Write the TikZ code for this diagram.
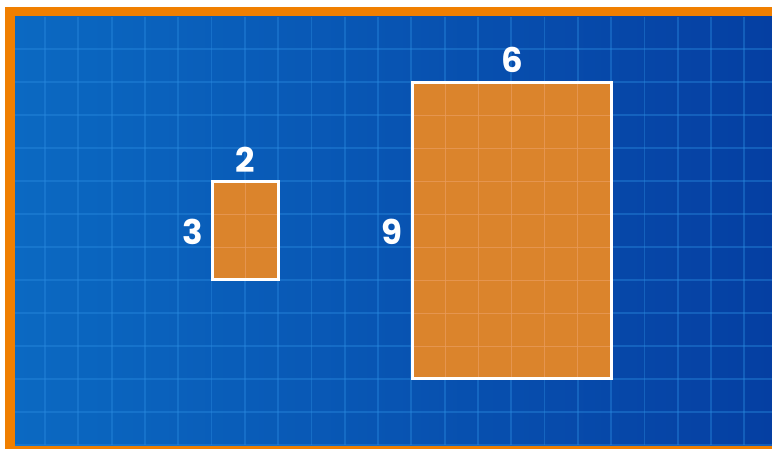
\documentclass[tikz,border=0pt]{standalone}
\usepackage{fontspec}
\setmainfont{Poppins}
\definecolor{frameorange}{HTML}{F07F00}
\definecolor{bgleft}{HTML}{0B69C2}
\definecolor{bgright}{HTML}{053FA2}
\definecolor{gridblue}{HTML}{2A8BE0}
\definecolor{boxorange}{HTML}{DB842C}
\definecolor{boxgrid}{HTML}{E89A58}
\tikzset{
  bgline/.style={gridblue, line width=1.8pt, opacity=0.4},
  cellline/.style={boxgrid, line width=1pt, opacity=0.8},
  areabox/.style={draw=white, line width=3pt, fill=boxorange, inner sep=0pt, outer sep=0pt, anchor=north west},
  dimlabel/.style={text=white, font=\fontsize{34}{34}\selectfont\bfseries, inner sep=0pt}
}
\begin{document}
\begin{tikzpicture}[x=1pt,y=-1pt]
\useasboundingbox (0,0) rectangle (772,449);
\fill[white] (0,0) rectangle (772,449);
\fill[frameorange] (5,7) rectangle (772,449);
\shade[left color=bgleft, right color=bgright] (15,17) rectangle (772,445);
\begin{scope}
\clip (15,17) rectangle (772,445);
\foreach \k in {0,...,21} \draw[bgline] ({45+33.3*\k},17) -- ({45+33.3*\k},445);
\foreach \k in {0,...,12} \draw[bgline] (15,{49+33*\k}) -- (772,{49+33*\k});
\end{scope}
% small box
\node[areabox, minimum width=66pt, minimum height=98pt] (small) at (212,182) {};
\begin{scope}
\clip (212,182) rectangle (278,280);
\draw[cellline] (245,182) -- (245,280);
\draw[cellline] (212,214.7) -- (278,214.7);
\draw[cellline] (212,247.3) -- (278,247.3);
\end{scope}
\draw[white, line width=3pt] (small.north west) rectangle (small.south east);
% large box
\node[areabox, minimum width=199pt, minimum height=296pt] (large) at (412,83) {};
\begin{scope}
\clip (412,83) rectangle (611,379);
\foreach \k in {1,...,5} \draw[cellline] ({412+33.17*\k},83) -- ({412+33.17*\k},379);
\foreach \k in {1,...,8} \draw[cellline] (412,{83+32.89*\k}) -- (611,{83+32.89*\k});
\end{scope}
\draw[white, line width=3pt] (large.north west) rectangle (large.south east);
% labels
\node[dimlabel] (lsw) at (245,160) {2};
\node[dimlabel] (lsh) at (193,232) {3};
\node[dimlabel] (llw) at (512,60) {6};
\node[dimlabel] (llh) at (392,232) {9};
\end{tikzpicture}
\end{document}
